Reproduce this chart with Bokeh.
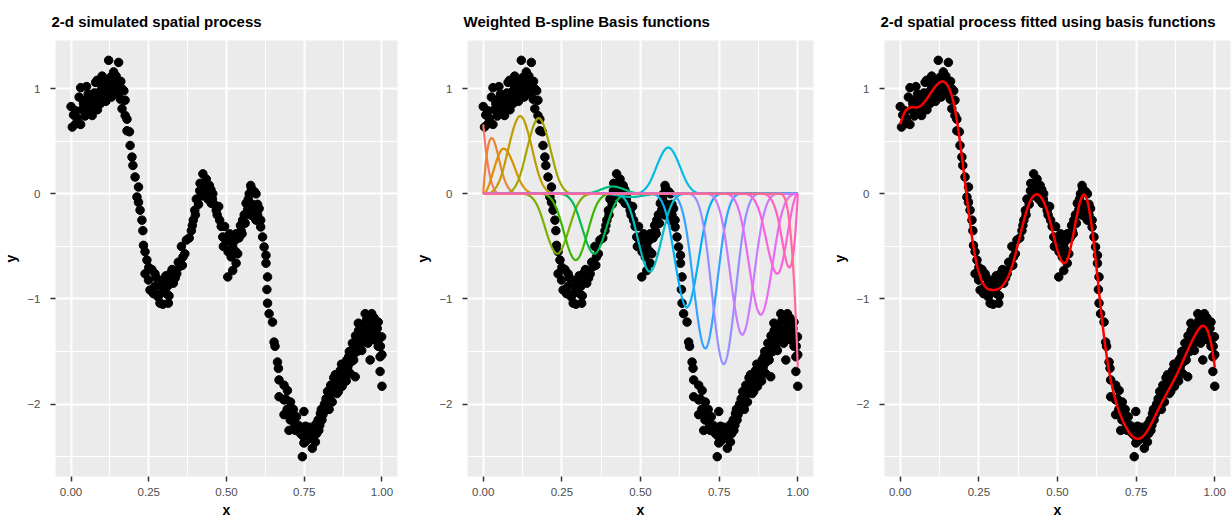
import numpy as np
from bokeh.plotting import figure
from bokeh.layouts import row
from bokeh.models import Range1d, FixedTicker, NumeralTickFormatter, BasicTickFormatter
from bokeh.embed import file_html
from bokeh.resources import INLINE

x_r1 = [0.004, 0.015, 0.031, 0.0, 0.015, 0.026, 0.031, 0.05, 0.047, 0.052,
        0.068, 0.073, 0.084, 0.079, 0.084, 0.1, 0.095, 0.105, 0.116, 0.121,
        0.153, 0.127, 0.137, 0.148, 0.116, 0.132, 0.153, 0.164, 0.159, 0.174,
        0.164, 0.174, 0.18,
        0.02, 0.035, 0.04, 0.055, 0.06, 0.065, 0.075, 0.085, 0.09, 0.095,
        0.1, 0.105, 0.11, 0.112, 0.125, 0.13, 0.14, 0.145, 0.15, 0.16,
        0.17, 0.008, 0.045, 0.058, 0.07]
y_r1 = [0.635, 0.666, 0.66, 0.83, 0.79, 0.92, 1.01, 1.02, 0.89, 0.79,
        0.745, 0.82, 0.89, 1.06, 1.08, 1.12, 0.98, 0.92, 1.01, 1.27,
        1.25, 1.11, 1.16, 1.08, 0.95, 0.98, 1.01, 1.0, 0.9, 0.89,
        0.81, 0.745, 0.71,
        0.72, 0.80, 0.86, 0.95, 0.84, 0.92, 0.96, 0.80, 0.94, 0.86,
        1.02, 0.97, 1.06, 0.88, 1.04, 0.92, 1.0, 1.12, 0.95, 1.07,
        0.98, 0.75, 0.74, 0.78, 0.88]

x_r2 = [0.18, 0.188, 0.19, 0.196, 0.199, 0.206, 0.217, 0.212, 0.217, 0.222, 0.228, 0.231, 0.233, 0.238]
y_r2 = [0.6, 0.59, 0.46, 0.35, 0.27, 0.16, 0.065, -0.03, -0.08, -0.155, -0.25, -0.35, -0.49, -0.55]

x_r3 = [0.244, 0.238, 0.249, 0.254, 0.27, 0.286, 0.286, 0.313, 0.297, 0.318,
        0.329, 0.34, 0.35, 0.27, 0.307,
        0.26, 0.265, 0.275, 0.28, 0.29, 0.295, 0.30, 0.305, 0.31, 0.315,
        0.32, 0.325, 0.335, 0.345, 0.36, 0.358, 0.25]
y_r3 = [-0.63, -0.76, -0.82, -0.915, -0.88, -0.95, -1.04, -1.04, -0.82, -0.76,
        -0.85, -0.76, -0.69, -0.76, -0.95,
        -0.72, -0.95, -0.80, -0.98, -0.87, -1.05, -0.92, -0.78, -0.88, -0.97,
        -0.84, -0.72, -0.8, -0.65, -0.6, -0.68, -0.7]

x_r4 = [0.355, 0.371, 0.366, 0.387, 0.393, 0.398, 0.403, 0.414, 0.424, 0.43,
        0.44, 0.446, 0.456, 0.451, 0.467, 0.478,
        0.38, 0.39, 0.40, 0.41, 0.415, 0.42, 0.425, 0.43, 0.435, 0.44,
        0.445, 0.45, 0.455, 0.46, 0.47, 0.475]
y_r4 = [-0.5, -0.44, -0.57, -0.35, -0.25, -0.157, -0.05, 0.03, 0.19, 0.11,
        0.065, -0.03, 0.0, -0.09, -0.157, -0.25,
        -0.42, -0.3, -0.2, -0.1, 0.1, -0.02, 0.05, 0.0, 0.14, -0.05,
        0.08, 0.04, -0.05, -0.1, -0.2, -0.12]

x_r5 = [0.483, 0.494, 0.488, 0.499, 0.515, 0.52, 0.531, 0.547, 0.536, 0.504, 0.52, 0.531,
        0.49, 0.5, 0.505, 0.51, 0.515, 0.525, 0.53, 0.54, 0.545, 0.55, 0.557, 0.56]
y_r5 = [-0.31, -0.31, -0.41, -0.44, -0.41, -0.505, -0.38, -0.35, -0.57, -0.79, -0.73, -0.66,
        -0.5, -0.45, -0.55, -0.38, -0.6, -0.45, -0.55, -0.42, -0.3, -0.38, -0.2, -0.28]

x_r6 = [0.552, 0.563, 0.573, 0.578, 0.595, 0.59, 0.605, 0.6, 0.61, 0.616, 0.621, 0.627,
        0.568, 0.57, 0.575, 0.58, 0.583, 0.588, 0.59, 0.595, 0.6, 0.61]
y_r6 = [-0.25, -0.09, 0.0, 0.08, 0.0, -0.157, -0.14, -0.2, -0.315, -0.41, -0.505, -0.585,
        -0.15, -0.05, -0.2, 0.05, -0.1, -0.22, 0.02, -0.25, -0.1, -0.25]

x_r7 = [0.627, 0.632, 0.63, 0.632, 0.637, 0.648, 0.653, 0.656, 0.664, 0.667,
        0.669, 0.685, 0.696, 0.669, 0.685, 0.706]
y_r7 = [-0.66, -0.79, -0.91, -1.04, -1.14, -1.22, -1.41, -1.45, -1.6, -1.66,
        -1.77, -1.82, -1.87, -1.93, -1.96, -1.98]

x_r8 = [0.685, 0.701, 0.712, 0.701, 0.722, 0.738, 0.749, 0.754, 0.744, 0.749,
        0.765, 0.776, 0.786, 0.797, 0.791, 0.807, 0.802, 0.818, 0.829, 0.823,
        0.69, 0.695, 0.705, 0.715, 0.72, 0.725, 0.73, 0.735, 0.74, 0.745,
        0.75, 0.755, 0.76, 0.765, 0.77, 0.775, 0.78, 0.785, 0.79, 0.795,
        0.8, 0.805, 0.81, 0.815, 0.82]
y_r8 = [-2.1, -2.09, -2.15, -2.25, -2.25, -2.28, -2.07, -2.21, -2.5, -2.37,
        -2.33, -2.42, -2.36, -2.25, -2.18, -2.15, -2.09, -2.06, -1.94, -2.02,
        -1.95, -2.05, -2.15, -2.05, -2.2, -2.12, -2.2, -2.24, -2.22, -2.3,
        -2.25, -2.35, -2.28, -2.22, -2.3, -2.25, -2.3, -2.2, -2.28, -2.15,
        -2.2, -2.05, -2.1, -2.0, -1.95]

x_r9 = [0.839, 0.85, 0.845, 0.861, 0.855, 0.866, 0.877, 0.872, 0.882, 0.887,
        0.893, 0.903, 0.909, 0.914, 0.898, 0.92, 0.924, 0.93, 0.94, 0.946,
        0.951, 0.962, 0.967, 0.972, 0.978, 0.988, 0.988, 0.994, 0.999, 1.0,
        0.994, 1.0, 0.956, 0.935,
        0.825, 0.83, 0.835, 0.84, 0.845, 0.85, 0.855, 0.86, 0.865, 0.87,
        0.875, 0.88, 0.885, 0.89, 0.895, 0.9, 0.905, 0.91, 0.915, 0.92,
        0.925, 0.93, 0.935, 0.94, 0.945, 0.95, 0.955, 0.96, 0.965, 0.97,
        0.975, 0.98, 0.985, 0.99, 0.995]
y_r9 = [-1.9, -1.83, -1.75, -1.77, -1.9, -1.68, -1.64, -1.83, -1.72, -1.58,
        -1.55, -1.49, -1.58, -1.74, -1.71, -1.42, -1.23, -1.36, -1.3, -1.14,
        -1.39, -1.58, -1.14, -1.27, -1.39, -1.22, -1.45, -1.55, -1.36, -1.53,
        -1.69, -1.83, -1.33, -1.49,
        -1.88, -2.05, -1.82, -1.98, -1.85, -1.72, -1.8, -1.88, -1.75, -1.62,
        -1.72, -1.65, -1.78, -1.65, -1.5, -1.6, -1.42, -1.52, -1.35, -1.5,
        -1.3, -1.44, -1.25, -1.4, -1.28, -1.2, -1.42, -1.3, -1.22, -1.35,
        -1.18, -1.32, -1.28, -1.38, -1.45]

# ---------------- weighted basis functions: signed peak of each weighted basis ----------------
n_interior_knots = 16
basis_peaks = [0.66, 0.53, 0.43, 0.74, 0.72, -0.57, -0.63, -0.57, 0.07, -0.03,
               -0.74, 0.44, -1.08, -1.47, -1.62, -1.34, -1.15, -0.76, -0.70, -1.65]

titles = ["2-d simulated spatial process",
          "Weighted B-spline Basis functions",
          "2-d spatial process fitted using basis functions"]
x_ticks = [0.0, 0.25, 0.5, 0.75, 1.0]
y_ticks = [-2, -1, 0, 1]

x_parts = [x_r1, x_r2, x_r3, x_r4, x_r5, x_r6, x_r7, x_r8, x_r9]
y_parts = [y_r1, y_r2, y_r3, y_r4, y_r5, y_r6, y_r7, y_r8, y_r9]
for i, (a, b) in enumerate(zip(x_parts, y_parts)):
    assert len(a) == len(b), (i, len(a), len(b))
obs_x = np.array(sum(x_parts, []))
obs_y = np.array(sum(y_parts, []))


def bspline_basis(x, n_int, degree=3):
    interior = np.linspace(0, 1, n_int + 2)[1:-1]
    t = np.concatenate([np.zeros(degree + 1), interior, np.ones(degree + 1)])
    B = np.zeros((len(x), len(t) - 1))
    for i in range(len(t) - 1):
        if t[i] < t[i + 1]:
            B[:, i] = ((x >= t[i]) & (x < t[i + 1])).astype(float)
    last = max(i for i in range(len(t) - 1) if t[i] < t[i + 1])
    B[x >= t[-1], last] = 1.0
    for d in range(1, degree + 1):
        Bn = np.zeros((len(x), len(t) - 1 - d))
        for i in range(len(t) - 1 - d):
            term = np.zeros(len(x))
            den1 = t[i + d] - t[i]
            den2 = t[i + d + 1] - t[i + 1]
            if den1 > 0:
                term += (x - t[i]) / den1 * B[:, i]
            if den2 > 0:
                term += (t[i + d + 1] - x) / den2 * B[:, i + 1]
            Bn[:, i] = term
        B = Bn
    return B


xs = np.linspace(0, 1, 801)
B = bspline_basis(xs, n_interior_knots)
coef = np.array(basis_peaks) / B.max(axis=0)
weighted = B * coef
fit = weighted.sum(axis=1)


def hcl_hex(h, c=100.0, l=65.0):
    WY, Wu, Wv = 100.0, 0.1978398, 0.4683363
    hr = np.deg2rad(h)
    U, V = c * np.cos(hr), c * np.sin(hr)
    Y = WY * ((l + 16) / 116) ** 3
    u = U / (13 * l) + Wu
    v = V / (13 * l) + Wv
    X = 9.0 * Y * u / (4 * v)
    Z = -X / 3 - 5 * Y + 3 * Y / v

    def g(q):
        return 1.055 * q ** (1 / 2.4) - 0.055 if q > 0.00304 else 12.92 * q
    r = g((3.240479 * X - 1.537150 * Y - 0.498535 * Z) / WY)
    gg = g((-0.969256 * X + 1.875992 * Y + 0.041556 * Z) / WY)
    b = g((0.055648 * X - 0.204043 * Y + 1.057311 * Z) / WY)
    vals = [int(round(255 * min(max(q, 0.0), 1.0))) for q in (r, gg, b)]
    return "#%02X%02X%02X" % tuple(vals)


n_b = len(basis_peaks)
colors = [hcl_hex(15 + 360.0 / n_b * k) for k in range(n_b)]

ymin, ymax = float(min(obs_y.min(), weighted.min(), fit.min())), float(max(obs_y.max(), weighted.max(), fit.max()))
pad = 0.05 * (ymax - ymin)
FONT = "Liberation Sans"


def make_panel(title, width, left, right):
    p = figure(width=width, height=520,
               x_range=Range1d(-0.05, 1.05), y_range=Range1d(ymin - pad, ymax + pad),
               min_border_left=left, min_border_right=right,
               min_border_top=39, min_border_bottom=43,
               output_backend="svg", toolbar_location=None, title=title)
    p.background_fill_color = "#EBEBEB"
    p.border_fill_color = "white"
    p.outline_line_color = None
    p.title.text_font = FONT
    p.title.text_font_size = "15px"
    p.title.text_font_style = "bold"
    p.title.text_color = "black"
    p.title.align = "left"
    p.title.offset = -4
    p.title.standoff = 21

    p.xaxis.ticker = FixedTicker(ticks=x_ticks, minor_ticks=[0.125, 0.375, 0.625, 0.875])
    p.yaxis.ticker = FixedTicker(ticks=y_ticks, minor_ticks=[-2.5, -1.5, -0.5, 0.5])
    p.xaxis.formatter = NumeralTickFormatter(format="0.00")
    p.yaxis.formatter = BasicTickFormatter()
    p.xaxis.axis_label = "x"
    p.yaxis.axis_label = "y"
    for ax in (p.xaxis[0], p.yaxis[0]):
        ax.axis_line_color = None
        ax.major_tick_line_color = "#333333"
        ax.major_tick_line_width = 1.5
        ax.major_tick_out = 5
        ax.major_tick_in = 0
        ax.minor_tick_out = 0
        ax.minor_tick_in = 0
        ax.major_label_text_font = FONT
        ax.major_label_text_font_size = "11.5px"
        ax.major_label_text_color = "#4D4D4D"
        ax.axis_label_text_font = FONT
        ax.axis_label_text_font_size = "14px"
        ax.axis_label_text_font_style = "bold"
        ax.axis_label_text_color = "black"
    p.xaxis.major_label_standoff = 6
    p.yaxis.major_label_standoff = 10
    p.xaxis.axis_label_standoff = 3
    p.yaxis.axis_label_standoff = 5

    p.xgrid.grid_line_color = "white"
    p.ygrid.grid_line_color = "white"
    p.xgrid.grid_line_width = 2
    p.ygrid.grid_line_width = 2
    p.xgrid.minor_grid_line_color = "white"
    p.ygrid.minor_grid_line_color = "white"
    p.xgrid.minor_grid_line_width = 1
    p.ygrid.minor_grid_line_width = 1

    p.scatter(obs_x, obs_y, size=8.5, fill_color="black", line_color="black")
    return p


p1 = make_panel(titles[0], 410, 51, 13)
p2 = make_panel(titles[1], 410, 57, 7)
for j in range(n_b):
    p2.line(xs, weighted[:, j], line_color=colors[j], line_width=2.2)
p3 = make_panel(titles[2], 411, 64, 1)
p3.line(xs, fit, line_color="#FF0000", line_width=2.5)

layout = row(p1, p2, p3)
open("out.html", "w").write(file_html(layout, INLINE))
